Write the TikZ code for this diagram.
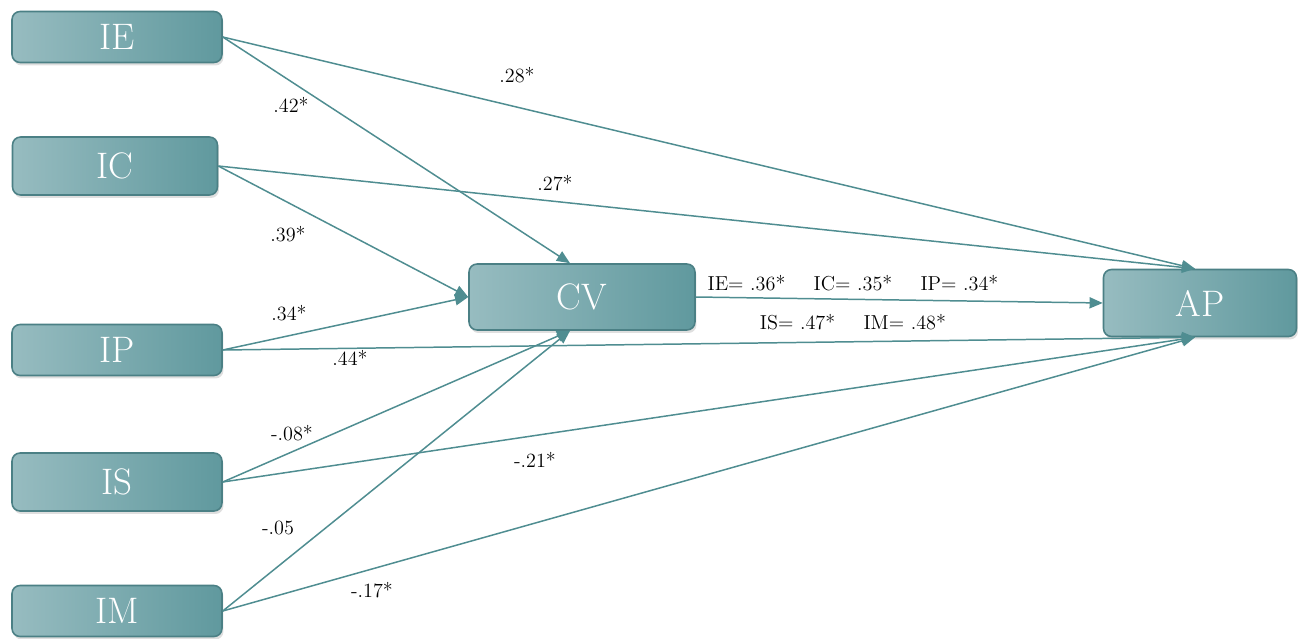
\documentclass[tikz,border=0pt]{standalone}
\usetikzlibrary{arrows.meta,shadows,calc}
\definecolor{boxL}{HTML}{97BCC0}
\definecolor{boxR}{HTML}{60999E}
\definecolor{boxB}{HTML}{4B8085}
\definecolor{edgeC}{HTML}{4F8D91}
\begin{document}
\begin{tikzpicture}[x=0.02cm,y=-0.02cm,
  box/.style={draw=boxB, line width=0.9pt, rounded corners=0.16cm,
    left color=boxL, right color=boxR, text=white,
    font=\fontsize{21}{24}\selectfont, inner sep=0pt,
    drop shadow={shadow xshift=0.03cm, shadow yshift=-0.06cm, opacity=0.25}},
  lbox/.style={box, minimum width=4.2cm, minimum height=1.02cm},
  conn/.style={draw=edgeC, line width=0.85pt, -{Triangle[length=7.5pt,width=6.3pt]}},
  lab/.style={font=\fontsize{11.5}{13}\selectfont, inner sep=0pt}]
\useasboundingbox (0,0) rectangle (1299,639);
\node[lbox] (IE) at (117,37) {IE};
\node[lbox, minimum width=4.1cm, minimum height=1.16cm] (IC) at (115,166) {IC};
\node[lbox] (IP) at (117,350) {IP};
\node[lbox, minimum height=1.16cm] (IS) at (117,482) {IS};
\node[lbox] (IM) at (117,611) {IM};
\node[box, minimum width=4.52cm, minimum height=1.32cm] (CV) at (582,297) {CV};
\node[box, minimum width=3.86cm, minimum height=1.34cm] (AP) at (1200,303) {AP};

\draw[conn] (IE.east) -- ([xshift=-0.24cm]CV.north);
\draw[conn] (IE.east) -- ([xshift=-0.1cm]AP.north);
\draw[conn] (IC.east) -- (CV.west);
\draw[conn] (IC.east) -- ([xshift=-0.1cm]AP.north);
\draw[conn] (IP.east) -- (CV.west);
\draw[conn] (IP.east) -- ([xshift=-0.1cm]AP.south);
\draw[conn] (IS.east) -- ([xshift=-0.24cm]CV.south);
\draw[conn] (IS.east) -- ([xshift=-0.1cm]AP.south);
\draw[conn] (IM.east) -- ([xshift=-0.24cm]CV.south);
\draw[conn] (IM.east) -- ([xshift=-0.1cm]AP.south);
\draw[conn] (CV.east) -- (AP.west);

\node[lab] (l1) at (517,75) {.28*};
\node[lab] (l2) at (291,105) {.42*};
\node[lab] (l3) at (555,183) {.27*};
\node[lab] (l4) at (288,234) {.39*};
\node[lab] (l5) at (289,313) {.34*};
\node[lab] (l6) at (350,358) {.44*};
\node[lab] (l7) at (292,433) {-.08*};
\node[lab] (l8) at (535,460) {-.21*};
\node[lab] (l9) at (278,528) {-.05};
\node[lab] (l10) at (372,590) {-.17*};
\node[lab] (l11) at (853,283) {IE= .36*\hspace{1.4em}IC= .35*\hspace{1.4em}IP= .34*};
\node[lab] (l12) at (853,322) {IS= .47*\hspace{1.4em}IM= .48*};
\end{tikzpicture}
\end{document}
